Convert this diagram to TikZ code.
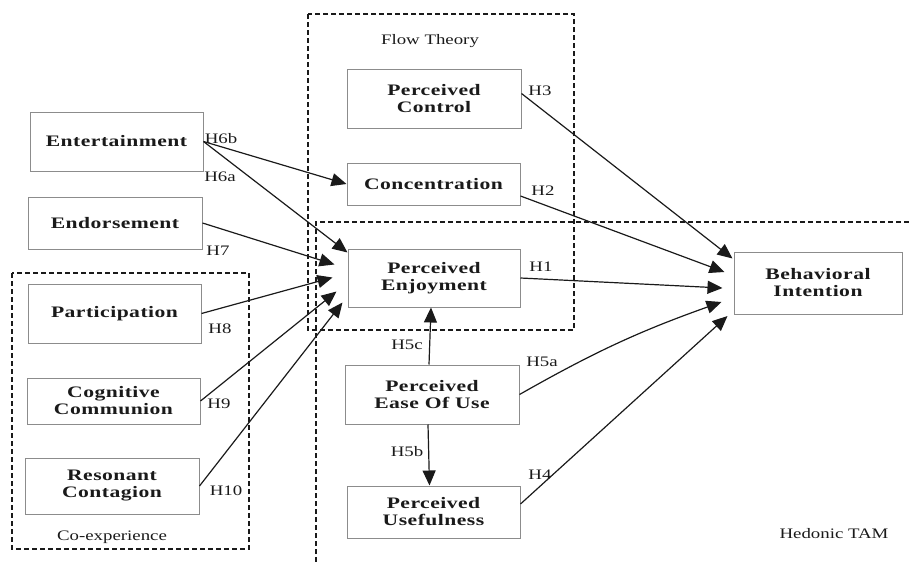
\documentclass[tikz,border=0pt]{standalone}
\usepackage{fontspec}
\setmainfont{Liberation Serif}[FakeStretch=1.3]
\newfontfamily\boxfont{Liberation Serif}[FakeStretch=1.35,LetterSpace=3]
\usetikzlibrary{arrows.meta,calc}
\definecolor{ink}{HTML}{1A1A1A}
\definecolor{frame}{HTML}{8C8C8C}
\tikzset{
  construct/.style={draw=frame, line width=1pt, fill=white, inner sep=0pt,
    align=center, text=ink, font=\boxfont\bfseries\fontsize{16}{17}\selectfont},
  hyp/.style={text=ink, font=\fontsize{14.5}{16}\selectfont, inner sep=0pt},
  grouplabel/.style={text=ink, font=\fontsize{14.5}{16}\selectfont, inner sep=0pt},
  link/.style={draw=ink, line width=1.2pt, -{Triangle[length=15pt,width=13pt]}},
  region/.style={draw=ink, line width=1.3pt, dash pattern=on 5pt off 3pt},
}
\begin{document}
\begin{tikzpicture}[x=1pt,y=-1pt]
\useasboundingbox (0,0) rectangle (910,562);

% theory groupings
\draw[region] (308,14) rectangle (574,330);
\draw[region] (316,562) -- (316,222) -- (910,222);
\draw[region] (12,273) rectangle (249,549);
\node[grouplabel] (flowlbl) at (430,41) {Flow Theory};
\node[grouplabel] (coexlbl) at (112,537) {Co-experience};
\node[grouplabel] (tamlbl) at (834,534) {Hedonic TAM};

% constructs
\node[construct, minimum width=173pt, minimum height=59pt] (ent)  at (116.5,141.5) {Entertainment};
\node[construct, minimum width=174pt, minimum height=52pt] (endo) at (115,223) {Endorsement};
\node[construct, minimum width=173pt, minimum height=59pt] (part) at (114.5,313.5) {Participation};
\node[construct, minimum width=173pt, minimum height=46pt] (cog)  at (113.5,401) {Cognitive\\Communion};
\node[construct, minimum width=174pt, minimum height=56pt] (res)  at (112,486) {Resonant\\Contagion};
\node[construct, minimum width=174pt, minimum height=59pt] (ctrl) at (434,98.5) {Perceived\\Control};
\node[construct, minimum width=173pt, minimum height=42pt] (conc) at (433.5,184) {Concentration};
\node[construct, minimum width=172pt, minimum height=58pt] (enj)  at (434,278) {Perceived\\Enjoyment};
\node[construct, minimum width=174pt, minimum height=59pt] (ease) at (432,394.5) {Perceived\\Ease Of Use};
\node[construct, minimum width=173pt, minimum height=52pt] (use)  at (433.5,512) {Perceived\\Usefulness};
\node[construct, minimum width=168pt, minimum height=62pt] (bi)   at (818,283) {Behavioral\\Intention};

% arrow tips that stop short of the target boxes
\coordinate (enjA) at ($(enj.north west)+(0,4)$);
\coordinate (enjB) at ($(enj.west)+(-13,-13.5)$);
\coordinate (enjC) at ($(enj.west)+(-15,-0.5)$);
\coordinate (enjD) at ($(enj.west)+(-11,13.5)$);
\coordinate (enjE) at ($(enj.west)+(-5,24.5)$);
\coordinate (biA) at ($(bi.north west)+(-1,7)$);
\coordinate (biB) at ($(bi.west)+(-9,-11)$);
\coordinate (biC) at ($(bi.west)+(-11,5)$);
\coordinate (biD) at ($(bi.west)+(-12,19)$);
\coordinate (biE) at ($(bi.west)+(-6,33)$);
\coordinate (ctrlOut) at ($(ctrl.east)+(0,-5)$);
\coordinate (concOut) at ($(conc.east)+(0,12)$);
\coordinate (useOut) at ($(use.east)+(0,-8)$);

% hypothesised paths
\draw[link] (ent.east) -- (conc.west);
\draw[link] (ent.east) -- (enjA);
\draw[link] (endo.east) -- (enjB);
\draw[link] (part.east) -- (enjC);
\draw[link] (cog.east) -- (enjD);
\draw[link] (res.east) -- (enjE);
\draw[link] (ctrlOut) -- (biA);
\draw[link] (concOut) -- (biB);
\draw[link] (enj.east) -- (biC);
\draw[link] (ease.east) to[bend left=5] (biD);
\draw[link] (useOut) -- (biE);
\draw[link] ([xshift=-3pt]ease.north) -- ([xshift=-3pt]enj.south);
\draw[link] ([xshift=-4pt]ease.south) -- ([xshift=-4pt]use.north);

% hypothesis labels
\node[hyp] (h6b) at (221,139) {H6b};
\node[hyp] (h6a) at (220,177) {H6a};
\node[hyp] (h7)  at (218,251) {H7};
\node[hyp] (h8)  at (220,329) {H8};
\node[hyp] (h9)  at (219,404) {H9};
\node[hyp] (h10) at (226,491) {H10};
\node[hyp] (h5c) at (407,345) {H5c};
\node[hyp] (h5b) at (407,452) {H5b};
\node[hyp] (h5a) at (542,362) {H5a};
\node[hyp] (h4)  at (540,475) {H4};
\node[hyp] (h3)  at (540,91) {H3};
\node[hyp] (h2)  at (543,191) {H2};
\node[hyp] (h1)  at (541,267) {H1};
\end{tikzpicture}
\end{document}
